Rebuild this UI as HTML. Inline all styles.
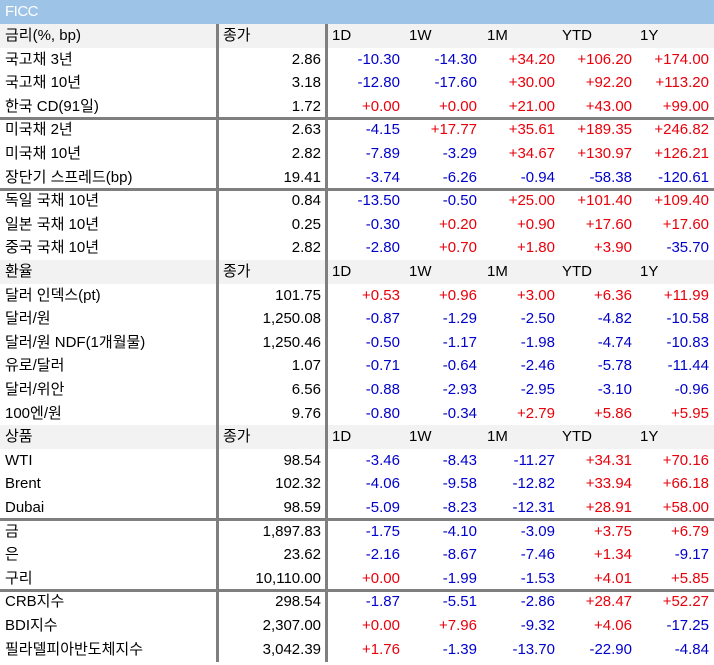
<!DOCTYPE html>
<html><head><meta charset="utf-8">
<style>
body{margin:0;width:714px;height:665px;background:#fff;overflow:hidden;position:relative;font-family:"Liberation Sans","Noto Sans CJK KR",sans-serif;font-size:15px;color:#000}
#title{position:absolute;left:0;top:0;width:714px;height:24px;background:#9dc3e6;color:#fff;line-height:24px;padding-left:5px;box-sizing:border-box;font-size:15px;letter-spacing:-0.5px}
.row{position:absolute;left:0;width:714px;height:23.6px;line-height:23.6px}
.row.hdr{background:#f2f2f2}
.c{position:absolute;top:0;height:100%;white-space:nowrap}
.lab{left:5px}
.v{text-align:right}
.r{color:#e8000b}.b{color:#0000cc}
.vl{position:absolute;width:3px;background:#7f7f7f;top:24px;height:638px}
.hl{position:absolute;left:0;width:714px;height:3px;background:#7f7f7f}
</style></head><body>
<div id="title">FICC</div>
<div id="tbl"></div>
<div class="vl" style="left:216px"></div>
<div class="vl" style="left:325px"></div>
<script>
const rows = [
 ["H","금리(%, bp)"],
 ["국고채 3년","2.86","-10.30","-14.30","+34.20","+106.20","+174.00"],
 ["국고채 10년","3.18","-12.80","-17.60","+30.00","+92.20","+113.20"],
 ["한국 CD(91일)","1.72","+0.00","+0.00","+21.00","+43.00","+99.00"],
 ["미국채 2년","2.63","-4.15","+17.77","+35.61","+189.35","+246.82"],
 ["미국채 10년","2.82","-7.89","-3.29","+34.67","+130.97","+126.21"],
 ["장단기 스프레드(bp)","19.41","-3.74","-6.26","-0.94","-58.38","-120.61"],
 ["독일 국채 10년","0.84","-13.50","-0.50","+25.00","+101.40","+109.40"],
 ["일본 국채 10년","0.25","-0.30","+0.20","+0.90","+17.60","+17.60"],
 ["중국 국채 10년","2.82","-2.80","+0.70","+1.80","+3.90","-35.70"],
 ["H","환율"],
 ["달러 인덱스(pt)","101.75","+0.53","+0.96","+3.00","+6.36","+11.99"],
 ["달러/원","1,250.08","-0.87","-1.29","-2.50","-4.82","-10.58"],
 ["달러/원 NDF(1개월물)","1,250.46","-0.50","-1.17","-1.98","-4.74","-10.83"],
 ["유로/달러","1.07","-0.71","-0.64","-2.46","-5.78","-11.44"],
 ["달러/위안","6.56","-0.88","-2.93","-2.95","-3.10","-0.96"],
 ["100엔/원","9.76","-0.80","-0.34","+2.79","+5.86","+5.95"],
 ["H","상품"],
 ["WTI","98.54","-3.46","-8.43","-11.27","+34.31","+70.16"],
 ["Brent","102.32","-4.06","-9.58","-12.82","+33.94","+66.18"],
 ["Dubai","98.59","-5.09","-8.23","-12.31","+28.91","+58.00"],
 ["금","1,897.83","-1.75","-4.10","-3.09","+3.75","+6.79"],
 ["은","23.62","-2.16","-8.67","-7.46","+1.34","-9.17"],
 ["구리","10,110.00","+0.00","-1.99","-1.53","+4.01","+5.85"],
 ["CRB지수","298.54","-1.87","-5.51","-2.86","+28.47","+52.27"],
 ["BDI지수","2,307.00","+0.00","+7.96","-9.32","+4.06","-17.25"],
 ["필라델피아반도체지수","3,042.39","+1.76","-1.39","-13.70","-22.90","-4.84"]
];
const seps=[3,6,20,23];
const colRight=[321,400,477,555,632,709];
const hdrLeft=[223,332,409,487,562,640];
const hdrTxt=["종가","1D","1W","1M","YTD","1Y"];
const H=23.6, T=24;
const tbl=document.getElementById('tbl');
rows.forEach((r,i)=>{
  const d=document.createElement('div');
  d.className='row'+(r[0]==='H'?' hdr':'');
  d.style.top=(T+i*H)+'px';
  
  
  const lab=document.createElement('div');
  lab.className='c lab';
  lab.textContent = r[0]==='H' ? r[1] : r[0];
  
  
  d.appendChild(lab);
  if(r[0]==='H'){
    hdrTxt.forEach((t,j)=>{
      const c=document.createElement('div');
      c.className='c';
      c.style.left=hdrLeft[j]+'px';
      c.textContent=t;
      
      
      d.appendChild(c);
    });
  } else {
    for(let j=1;j<r.length;j++){
      const c=document.createElement('div');
      const v=r[j];
      c.className='c v'+(j>1?(v[0]==='+'?' r':' b'):'');
      c.style.right=(714-colRight[j-1])+'px';
      c.textContent=v;
      
      
      d.appendChild(c);
    }
  }
  tbl.appendChild(d);
});
seps.forEach(i=>{
  const l=document.createElement('div');
  l.className='hl';
  l.style.top=(T+(i+1)*H-1.5)+'px';
  
  
  tbl.appendChild(l);
});
</script>
</body></html>
